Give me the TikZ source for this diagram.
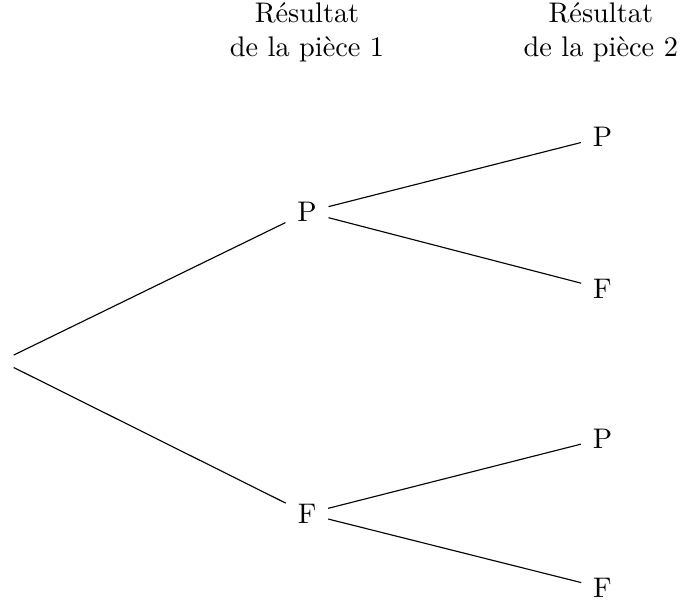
\documentclass[tikz,border=0pt]{standalone}
\usepackage{fontspec}
\usetikzlibrary{positioning}

\begin{document}
\begin{tikzpicture}[
  lvl/.style={font=\normalsize,align=center},
  res/.style={inner sep=4pt},
  branch/.style={thin}
]
  \useasboundingbox (0,0) rectangle (8.643,-7.452);
  % headers
  \node[lvl] (T1) at (3.807,-0.40) {Résultat\\de la pièce 1};
  \node[lvl] (T2) at (7.45,-0.40)  {Résultat\\de la pièce 2};
  % root
  \node[inner sep=0pt,minimum height=0.14cm,minimum width=0pt] (R) at (0.17,-4.48) {};
  % first coin
  \node[res] (P) at (3.807,-2.63) {P};
  \node[res] (F) at (3.807,-6.37) {F};
  % second coin
  \node[res] (PP) at (7.47,-1.70) {P};
  \node[res] (PF) at (7.47,-3.58) {F};
  \node[res] (FP) at (7.47,-5.44) {P};
  \node[res] (FF) at (7.47,-7.29) {F};
  % branches
  \draw[branch] (R.north) -- (P);
  \draw[branch] (R.south) -- (F);
  \draw[branch] (P) -- (PP);
  \draw[branch] (P) -- (PF);
  \draw[branch] (F) -- (FP);
  \draw[branch] (F) -- (FF);
\end{tikzpicture}
\end{document}
